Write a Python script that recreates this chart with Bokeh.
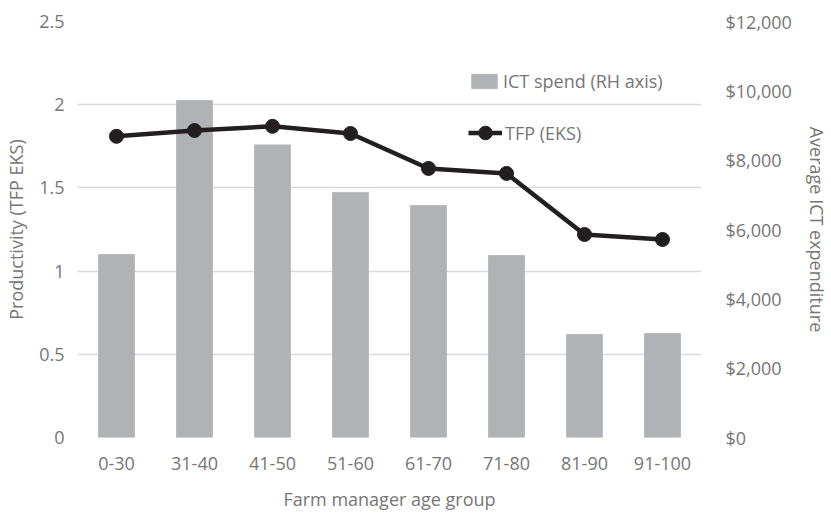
from bokeh.plotting import figure
from bokeh.models import (Range1d, LinearAxis, FixedTicker, NumeralTickFormatter,
                          Legend, LegendItem, ColumnDataSource)
from bokeh.embed import file_html
from bokeh.resources import INLINE

categories = ["0-30", "31-40", "41-50", "51-60", "61-70", "71-80", "81-90", "91-100"]
ict_spend = [5280, 9720, 8440, 7070, 6690, 5250, 2970, 3000]
tfp_eks = [1.81, 1.845, 1.87, 1.827, 1.617, 1.587, 1.22, 1.19]
left_ticks = [0, 0.5, 1, 1.5, 2, 2.5]
right_ticks = [0, 2000, 4000, 6000, 8000, 10000, 12000]

FONT = "Open Sans"
TXT = "#767676"
FS = "18px"

src = ColumnDataSource(dict(cat=categories, ict=ict_spend, tfp=tfp_eks))

p = figure(width=831, height=514, x_range=categories, y_range=Range1d(0, 2.5),
           output_backend="svg", toolbar_location=None,
           min_border_left=77, min_border_right=124, min_border_top=21, min_border_bottom=77)
p.extra_y_ranges = {"ict": Range1d(0, 12000)}
p.outline_line_color = None
p.background_fill_color = "white"
p.border_fill_color = "white"

bars = p.vbar(x="cat", top="ict", width=0.46, source=src, y_range_name="ict",
              fill_color="#b1b2b6", line_color="#b8b9bc", line_width=1)
line = p.line(x="cat", y="tfp", source=src, line_color="#231f20", line_width=4.5)
pts = p.scatter(x="cat", y="tfp", source=src, size=14, fill_color="#231f20",
                line_color="#231f20")

# left axis
ly = p.yaxis[0]
ly.ticker = FixedTicker(ticks=left_ticks)
ly.major_label_overrides = {0: "0", 1: "1", 2: "2"}
ly.axis_label = "Productivity (TFP EKS)"

ry = LinearAxis(y_range_name="ict", ticker=FixedTicker(ticks=right_ticks),
                formatter=NumeralTickFormatter(format="$0,0"),
                axis_label="Average ICT expenditure")
p.add_layout(ry, "right")

xa = p.xaxis[0]
xa.axis_label = "Farm manager age group"

for ax in (ly, ry, xa):
    ax.axis_line_color = None
    ax.major_tick_line_color = None
    ax.minor_tick_line_color = None
    ax.major_label_text_font = FONT
    ax.major_label_text_font_size = FS
    ax.major_label_text_color = TXT
    ax.axis_label_text_font = FONT
    ax.axis_label_text_font_size = FS
    ax.axis_label_text_color = TXT
    ax.axis_label_text_font_style = "normal"

ly.major_label_standoff = 7
ly.axis_label_standoff = 8
ry.major_label_standoff = 18
ry.axis_label_standoff = 10
xa.major_label_standoff = 13
xa.axis_label_standoff = 14

p.xgrid.grid_line_color = None
p.ygrid.grid_line_color = "#d9d9d9"
p.ygrid.grid_line_width = 1.5

common = dict(orientation="vertical", label_standoff=3, padding=0, margin=0,
              border_line_color=None, background_fill_alpha=0,
              label_text_font=FONT, label_text_font_size=FS, label_text_color=TXT)
leg_bar = Legend(items=[LegendItem(label="ICT spend (RH axis)", renderers=[bars])],
                 location=(391, 344), glyph_width=32, glyph_height=18, **common)
leg_line = Legend(items=[LegendItem(label="TFP (EKS)", renderers=[line, pts])],
                  location=(391, 287), glyph_width=34, glyph_height=35, **common)
p.add_layout(leg_bar)
p.add_layout(leg_line)

open("out.html", "w").write(file_html(p, INLINE))
